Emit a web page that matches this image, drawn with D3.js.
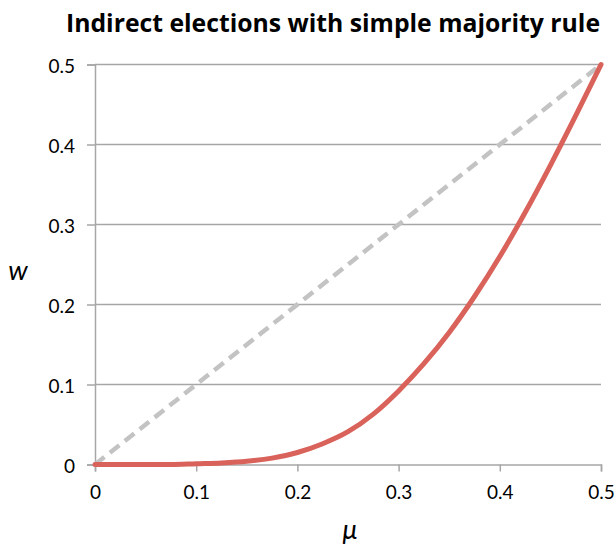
<!DOCTYPE html>
<html><head><meta charset="utf-8">
<script src="https://cdn.jsdelivr.net/npm/d3@7"></script>
<style>body{margin:0;background:#fff}svg{display:block}text{font-family:Lato,"Open Sans",sans-serif}</style>
</head><body><svg id="c" width="615" height="546"></svg>
<script>
const title = "Indirect elections with simple majority rule";
const xTicks = [0, 0.1, 0.2, 0.3, 0.4, 0.5];
const yTicks = [0, 0.1, 0.2, 0.3, 0.4, 0.5];
const mu = [0, 0.025, 0.05, 0.075, 0.1, 0.125, 0.15, 0.175, 0.2, 0.225, 0.25, 0.275, 0.3, 0.325, 0.35, 0.375, 0.4, 0.425, 0.45, 0.475, 0.5];
const w  = [0, 0.0, 0.0, 0.0, 0.001, 0.002, 0.004, 0.008, 0.015, 0.026, 0.041, 0.063, 0.092, 0.126, 0.165, 0.21, 0.26, 0.315, 0.374, 0.436, 0.5];
const diag = [[0,0],[0.5,0.5]];

const svg = d3.select("#c");
const x = d3.scaleLinear().domain([0,0.5]).range([95,601]);
const y = d3.scaleLinear().domain([0,0.5]).range([464.5,64.5]);
const grey = "#a6a6a6";

svg.append("text").attr("x",66).attr("y",32)
  .style("font-family",'"Open Sans",Lato,sans-serif')
  .style("font-size","25.5px").attr("font-weight","bold").attr("fill","#000")
  .attr("textLength",534).attr("lengthAdjust","spacingAndGlyphs").text(title);

// gridlines
svg.append("g").selectAll("line").data(yTicks.filter(d=>d>0)).join("line")
  .attr("x1",x(0)).attr("x2",x(0.5)).attr("y1",d=>y(d)).attr("y2",d=>y(d))
  .attr("stroke",grey).attr("stroke-width",1.5);

const fmt = d=>d===0?"0":d3.format(".1f")(d);
const ya = svg.append("g").attr("transform",`translate(${x(0)},0)`)
  .call(d3.axisLeft(y).tickValues(yTicks).tickFormat(fmt).tickSize(8).tickPadding(12));
const xa = svg.append("g").attr("transform",`translate(0,${y(0)})`)
  .call(d3.axisBottom(x).tickValues(xTicks).tickFormat(fmt).tickSize(7).tickPadding(14));
[ya,xa].forEach(a=>{
  a.selectAll("path").attr("stroke",grey).attr("stroke-width",1.5);
  a.selectAll("line").attr("stroke",grey).attr("stroke-width",1.5);
  a.selectAll("text").style("font-size","19px").attr("fill","#000")
    .style("font-family",'Lato,"Open Sans",sans-serif');
});
ya.selectAll("text").attr("dy","0.42em");
xa.selectAll("text").attr("dy","0.72em");

const line = d3.line().x(d=>x(d[0])).y(d=>y(d[1]));
svg.append("path").datum(diag).attr("d",line).attr("fill","none")
  .attr("stroke","#c3c3c3").attr("stroke-width",4.5).attr("stroke-dasharray","12,7");
svg.append("path").datum(mu.map((m,i)=>[m,w[i]])).attr("d",line.curve(d3.curveMonotoneX))
  .attr("fill","none").attr("stroke","#d9625b").attr("stroke-width",5).attr("stroke-linecap","round");

svg.append("text").attr("x",18).attr("y",280).style("font-size","27px").attr("font-style","italic")
  .attr("text-anchor","middle").text("w");
svg.append("text").attr("x",350).attr("y",539).style("font-size","27px").attr("font-style","italic")
  .attr("text-anchor","middle").text("μ");
</script></body></html>
